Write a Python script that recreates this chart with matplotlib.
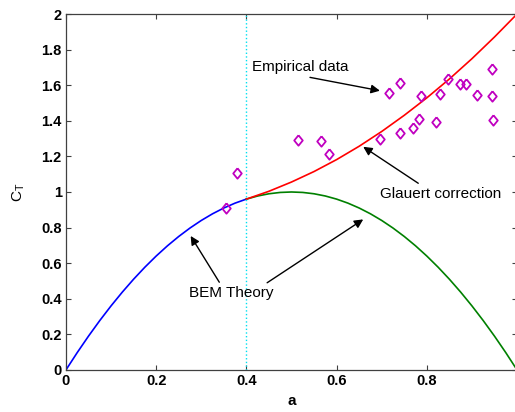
import numpy as np
import matplotlib
matplotlib.use("Agg")
import matplotlib.pyplot as plt

plt.rcParams['font.family'] = ['Liberation Sans', 'DejaVu Sans']

# BEM theory, CT = 4a(1-a)
a_bem = [0.0, 0.025, 0.05, 0.075, 0.1, 0.125, 0.15, 0.175, 0.2, 0.225, 0.25,
         0.275, 0.3, 0.325, 0.35, 0.375, 0.4, 0.425, 0.45, 0.475, 0.5,
         0.525, 0.55, 0.575, 0.6, 0.625, 0.65, 0.675, 0.7, 0.725, 0.75,
         0.775, 0.8, 0.825, 0.85, 0.875, 0.9, 0.925, 0.95, 0.975, 1.0]
ct_bem = [0.0, 0.0975, 0.19, 0.2775, 0.36, 0.4375, 0.51, 0.5775, 0.64, 0.6975, 0.75,
          0.7975, 0.84, 0.8775, 0.91, 0.9375, 0.96, 0.9775, 0.99, 0.9975, 1.0,
          0.9975, 0.99, 0.9775, 0.96, 0.9375, 0.91, 0.8775, 0.84, 0.7975, 0.75,
          0.6975, 0.64, 0.5775, 0.51, 0.4375, 0.36, 0.2775, 0.19, 0.0975, 0.0]

# Glauert correction (a > 0.4)
a_gl = [0.4, 0.45, 0.5, 0.55, 0.6, 0.65, 0.7, 0.75, 0.8, 0.85, 0.9, 0.95, 1.0]
ct_gl = [0.96, 1.004, 1.056, 1.115, 1.182, 1.257, 1.340, 1.431, 1.529,
         1.635, 1.749, 1.871, 2.0]

# empirical data points
a_emp = [0.354, 0.379, 0.515, 0.565, 0.583, 0.697, 0.717, 0.741, 0.741, 0.769,
         0.782, 0.787, 0.821, 0.830, 0.848, 0.874, 0.886, 0.911, 0.945, 0.945, 0.947]
ct_emp = [0.908, 1.105, 1.292, 1.287, 1.213, 1.298, 1.554, 1.610, 1.330, 1.358,
          1.412, 1.539, 1.393, 1.549, 1.633, 1.608, 1.608, 1.543, 1.693, 1.538, 1.403]

a_split = 0.4

fig = plt.figure(figsize=(5.15, 4.12), dpi=100)
ax = fig.add_axes([0.128, 0.102, 0.876, 0.864])

a_bem = np.array(a_bem)
ct_bem = np.array(ct_bem)
lo = a_bem <= a_split
hi = a_bem >= a_split
ax.plot(a_bem[lo], ct_bem[lo], color='#0000ff', lw=1.2)
ax.plot(a_bem[hi], ct_bem[hi], color='#008000', lw=1.2)
ax.plot(a_gl, ct_gl, color='#ff0000', lw=1.2)
ax.axvline(a_split, color='#00e0f0', lw=1.0, ls=':')

diamond = [(0, 1), (0.82, 0), (0, -1), (-0.82, 0), (0, 1)]
ax.plot(a_emp, ct_emp, ls='none', marker=diamond, ms=7.5, mfc='none',
        mec='#c000c0', mew=1.3)

arrow = dict(arrowstyle='-|>', color='black', lw=1.0, mutation_scale=13,
             shrinkA=0, shrinkB=0)
ax.annotate('', xy=(0.696, 1.569), xytext=(0.541, 1.644), arrowprops=arrow)
ax.text(0.519, 1.70, 'Empirical data', ha='center', va='center', fontsize=11)
ax.annotate('', xy=(0.659, 1.254), xytext=(0.781, 1.049), arrowprops=arrow)
ax.text(0.831, 0.989, 'Glauert correction', ha='center', va='center', fontsize=11)
ax.annotate('', xy=(0.2765, 0.753), xytext=(0.340, 0.493), arrowprops=arrow)
ax.annotate('', xy=(0.659, 0.846), xytext=(0.446, 0.490), arrowprops=arrow)
ax.text(0.367, 0.433, 'BEM Theory', ha='center', va='center', fontsize=11)

ax.set_xlim(0, 1)
ax.set_ylim(0, 2)
ax.set_xticks(np.arange(0, 1.01, 0.2))
ax.set_yticks(np.arange(0, 2.01, 0.2))
# the "1" at the right end falls outside the picture in the original
ax.set_xticklabels(['0', '0.2', '0.4', '0.6', '0.8', ''])
ax.set_yticklabels(['0', '0.2', '0.4', '0.6', '0.8', '1', '1.2', '1.4',
                    '1.6', '1.8', '2'])
ax.tick_params(direction='in', length=3.5, top=True, right=True,
               labelsize=10.5, color='#404040', pad=3)
for lab in ax.get_xticklabels() + ax.get_yticklabels():
    lab.set_fontweight('bold')
for sp in ax.spines.values():
    sp.set_color('#404040')
    sp.set_linewidth(0.9)

ax.set_xlabel('a', fontsize=11, fontweight='bold', labelpad=4)
ax.set_ylabel(r'$\mathregular{C_T}$', fontsize=11, labelpad=10)

fig.savefig('out.png', dpi=100)
